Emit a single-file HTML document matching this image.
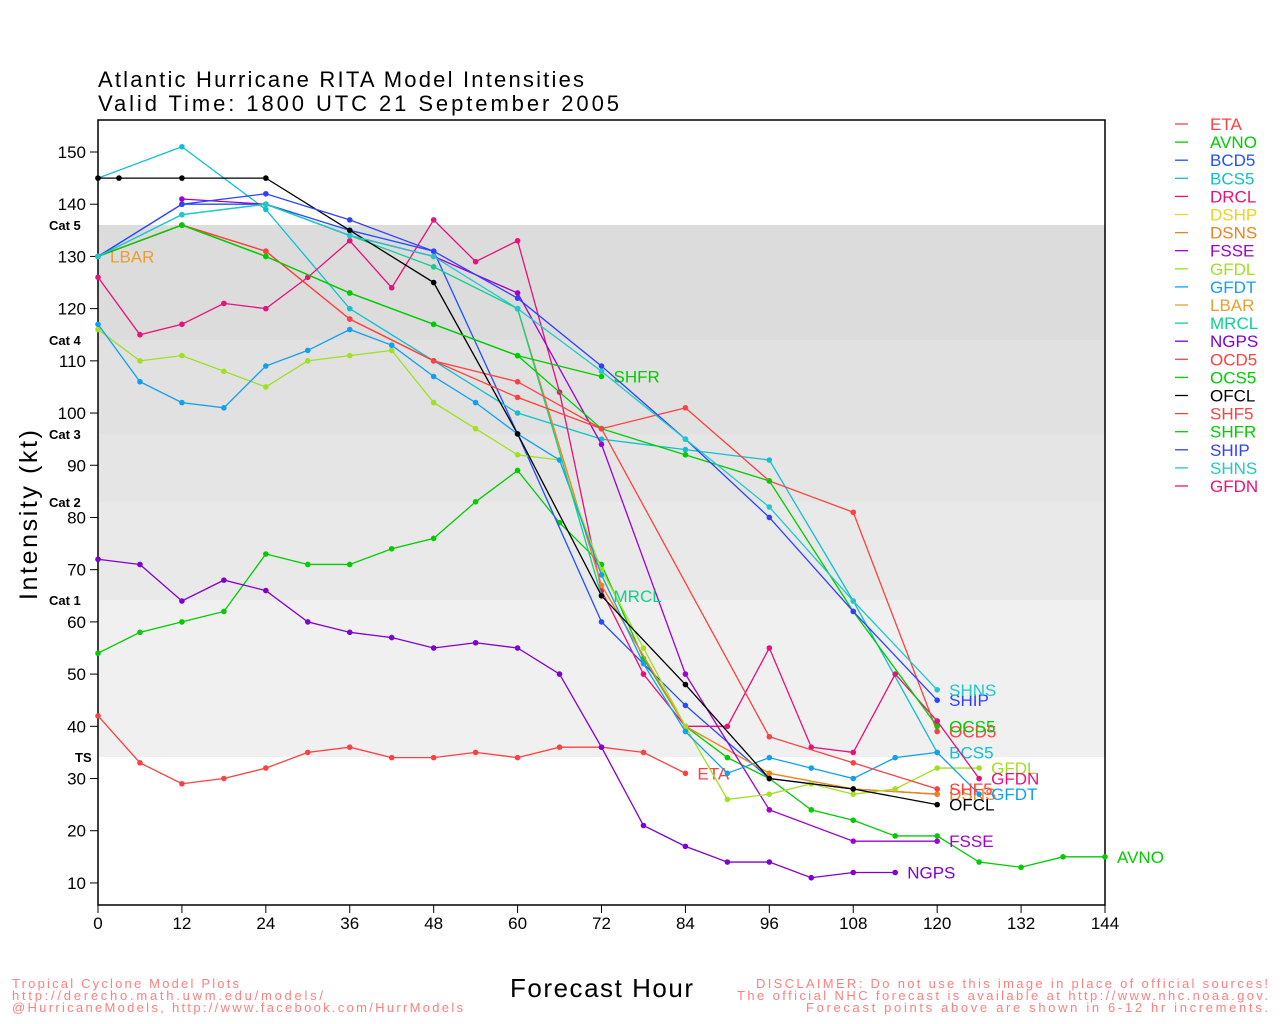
<!DOCTYPE html>
<html><head><meta charset="utf-8"><style>
html,body{margin:0;padding:0;background:#fff;width:1280px;height:1024px;overflow:hidden}
svg text{font-family:"Liberation Sans",sans-serif}
</style></head><body>
<svg id="s" width="1280" height="1024" xmlns="http://www.w3.org/2000/svg"></svg>
<script>
const S=document.getElementById('s');
let h='';
const X=t=>98+t*1007/144, Y=v=>152+(150-v)*5.221;
h+='<rect x="98" y="225" width="1007" height="115" fill="#dcdcdc"/>';
h+='<rect x="98" y="340" width="1007" height="94" fill="#e1e1e1"/>';
h+='<rect x="98" y="434" width="1007" height="68" fill="#e5e5e5"/>';
h+='<rect x="98" y="502" width="1007" height="98" fill="#e9e9e9"/>';
h+='<rect x="98" y="600" width="1007" height="157" fill="#f0f0f0"/>';
h+='<rect x="98" y="120" width="1007" height="785" fill="none" stroke="#000" stroke-width="1.5"/>';
for(let v=10;v<=150;v+=10){h+=`<line x1="98" x2="90" y1="${Y(v)}" y2="${Y(v)}" stroke="#000"/><text x="86" y="${Y(v)+6}" font-size="17" text-anchor="end">${v}</text>`;}
for(let t=0;t<=144;t+=12){h+=`<line x1="${X(t)}" x2="${X(t)}" y1="905" y2="913" stroke="#000"/><text x="${X(t)}" y="929" font-size="17" text-anchor="middle">${t}</text>`;}
[['Cat 5',230],['Cat 4',345],['Cat 3',439],['Cat 2',507],['Cat 1',605],['TS',762]].forEach(c=>{h+=`<text x="${c[0]=='TS'?75:49}" y="${c[1]}" font-size="13" font-weight="bold">${c[0]}</text>`});
h+='<text x="98" y="87" font-size="22" textLength="486" lengthAdjust="spacing">Atlantic Hurricane RITA Model Intensities</text>';
h+='<text x="98" y="111" font-size="22" textLength="521" lengthAdjust="spacing">Valid Time: 1800 UTC 21 September 2005</text>';
h+='<text transform="translate(37,515) rotate(-90)" font-size="25" text-anchor="middle" textLength="170" lengthAdjust="spacing">Intensity (kt)</text>';
h+='<text x="510" y="997" font-size="26" textLength="183" lengthAdjust="spacing">Forecast Hour</text>';
const fc='#ff7f7f';
[['Tropical Cyclone Model Plots',227],['http://derecho.math.uwm.edu/models/',311],['@HurricaneModels, http://www.facebook.com/HurrModels',451]].forEach((t,i)=>h+=`<text x="12" y="${988+i*12}" font-size="13" fill="${fc}" textLength="${t[1]}" lengthAdjust="spacing">${t[0]}</text>`);
[['DISCLAIMER: Do not use this image in place of official sources!',512],['The official NHC forecast is available at http://www.nhc.noaa.gov.',531],['Forecast points above are shown in 6-12 hr increments.',462]].forEach((t,i)=>h+=`<text x="${1268-t[1]}" y="${988+i*12}" font-size="13" fill="${fc}" textLength="${t[1]}" lengthAdjust="spacing">${t[0]}</text>`);
const P=s=>s.split(' ').map(p=>p.split(':').map(Number));
const ser=[
['ETA','#ff4040','0:42 6:33 12:29 18:30 24:32 30:35 36:36 42:34 48:34 54:35 60:34 66:36 72:36 78:35 84:31',1],
['AVNO','#00cc00','0:54 6:58 12:60 18:62 24:73 30:71 36:71 42:74 48:76 54:83 60:89 66:79 72:71 78:53 84:40 90:34 96:30 102:24 108:22 114:19 120:19 126:14 132:13 138:15 144:15',1],
['BCD5','#2050ff','0:130 12:140 24:140 36:135 48:131 60:96 72:60 84:44 96:30 108:28 120:27',0],
['BCS5','#10c0d0','0:145 12:151 24:139 36:120 48:110 60:100 72:95 84:93 96:91 108:64 120:35',1],
['DRCL','#e8107a','0:126 6:115 12:117 18:121 24:120 30:126 36:133 42:124 48:137 54:129 60:133 66:104 72:66 78:50 84:40 90:40 96:55 102:36 108:35 114:50 120:41',0],
['DSHP','#f0d020','60:120 72:67 84:40 96:31 108:28 120:27',0],
['DSNS','#f08020','60:120 72:67 84:40 96:31 108:28 120:27',1],
['FSSE','#a000d0','12:141 24:140 36:134 48:130 60:123 72:94 84:50 96:24 108:18 120:18',1],
['GFDL','#a0e020','0:116 6:110 12:111 18:108 24:105 30:110 36:111 42:112 48:102 54:97 60:92 66:91 72:70 78:55 84:40 90:26 96:27 102:29 108:27 114:28 120:32 126:32',1],
['GFDT','#10a0f0','0:117 6:106 12:102 18:101 24:109 30:112 36:116 42:113 48:107 54:102 60:96 66:91 72:69 78:52 84:39 90:31 96:34 102:32 108:30 114:34 120:35 126:27',1],
['LBAR','#e8a030','0:130',1],
['MRCL','#10d090','0:130 12:138 24:140 36:134 48:128 60:120 72:65',1],
['NGPS','#8000d0','0:72 6:71 12:64 18:68 24:66 30:60 36:58 42:57 48:55 54:56 60:55 66:50 72:36 78:21 84:17 90:14 96:14 102:11 108:12 114:12',1],
['OCD5','#ff4040','0:130 12:136 24:131 36:118 48:110 60:106 72:97 84:101 96:87 108:81 120:39',1],
['OCS5','#00cc00','0:130 12:136 24:130 36:123 48:117 60:111 72:97 84:92 96:87 108:62 120:40',1],
['OFCL','#000000','0:145 3:145 12:145 24:145 36:135 48:125 60:96 72:65 84:48 96:30 108:28 120:25',1],
['SHF5','#ff4040','0:130 12:136 24:131 36:118 48:110 60:103 72:97 96:38 108:33 120:28',1],
['SHFR','#00cc00','0:130 12:136 24:130 36:123 48:117 60:111 72:107',1],
['SHIP','#3040ff','0:130 12:140 24:142 36:137 48:131 60:122 72:109 84:95 96:80 108:62 120:45',1],
['SHNS','#20c8c8','0:130 12:138 24:140 36:134 48:130 60:120 72:108 84:95 96:82 108:64 120:47',1],
['GFDN','#e8107a','120:41 126:30',1]
];
ser.forEach((s,i)=>{
 const p=P(s[2]);
 h+=`<polyline fill="none" stroke="${s[1]}" stroke-width="1.3" points="${p.map(q=>X(q[0])+','+Y(q[1])).join(' ')}"/>`;
 p.forEach(q=>h+=`<circle cx="${X(q[0])}" cy="${Y(q[1])}" r="2.8" fill="${s[1]}"/>`);
 if(s[3]){const l=p[p.length-1];h+=`<text x="${X(l[0])+12}" y="${Y(l[1])+6}" font-size="17" fill="${s[1]}">${s[0]}</text>`;}
 const ly=124+i*18.1;
 h+=`<line x1="1175" x2="1188" y1="${ly}" y2="${ly}" stroke="${s[1]}" stroke-width="1.3"/><text x="1210" y="${ly+6}" font-size="17" fill="${s[1]}">${s[0]}</text>`;
});
S.innerHTML=h;
</script>
</body></html>
